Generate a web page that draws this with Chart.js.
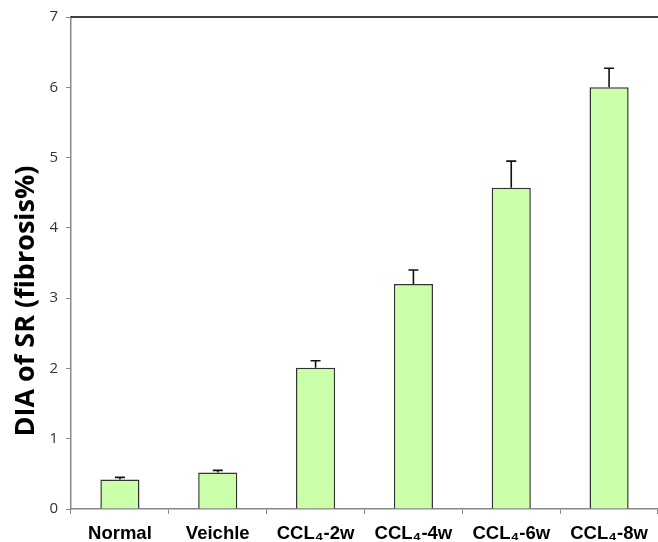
<!DOCTYPE html>
<html>
<head>
<meta charset="utf-8">
<script src="https://cdn.jsdelivr.net/npm/chart.js@4.4.1/dist/chart.umd.min.js"></script>
<style>
  html, body { margin: 0; padding: 0; background: #fff; overflow: hidden; }
  canvas { display: block; }
</style>
</head>
<body>
<canvas id="c" width="658" height="542"></canvas>
<script>
// Groups and measured fibrosis area (mean and mean + SD)
const categories = ['Normal', 'Veichle', 'CCL\u2084-2w', 'CCL\u2084-4w', 'CCL\u2084-6w', 'CCL\u2084-8w'];
const means = [0.42, 0.52, 2.01, 3.20, 4.57, 6.00];
const errorTops = [0.45, 0.55, 2.11, 3.40, 4.95, 6.27];
const yTicks = [0, 1, 2, 3, 4, 5, 6, 7];
const yTitle = 'DIA of SR (fibrosis%)';

// Upper error whiskers with a short cap, the top frame line and the y title
const errorBars = {
  id: 'errorBars',
  afterDatasetsDraw(chart) {
    const { ctx, chartArea, scales } = chart;
    const meta = chart.getDatasetMeta(0);
    ctx.save();
    ctx.strokeStyle = '#111';
    ctx.lineWidth = 1.6;
    meta.data.forEach((bar, i) => {
      const x = bar.x;
      const y0 = scales.y.getPixelForValue(means[i]);
      const y1 = scales.y.getPixelForValue(errorTops[i]);
      ctx.beginPath();
      ctx.moveTo(x, y0);
      ctx.lineTo(x, y1);
      ctx.moveTo(x - 5, y1);
      ctx.lineTo(x + 5, y1);
      ctx.stroke();
    });
    ctx.strokeStyle = '#000';
    ctx.lineWidth = 1.5;
    ctx.beginPath();
    ctx.moveTo(chartArea.left, chartArea.top);
    ctx.lineTo(chartArea.right + 10, chartArea.top);
    ctx.stroke();

    // rotated axis title, sitting a little below the axis midpoint
    ctx.translate(26, 301);
    ctx.rotate(-Math.PI / 2);
    ctx.fillStyle = '#000';
    ctx.font = 'bold 27px "Open Sans", sans-serif';
    ctx.textAlign = 'center';
    ctx.textBaseline = 'middle';
    ctx.fillText(yTitle, 0, 0);
    ctx.restore();
  }
};

new Chart(document.getElementById('c'), {
  type: 'bar',
  data: {
    labels: categories,
    datasets: [{
      data: means,
      backgroundColor: '#ccffaa',
      borderColor: '#333',
      borderWidth: 1.5,
      borderSkipped: 'bottom',
      categoryPercentage: 0.8,
      barPercentage: 0.5
    }]
  },
  options: {
    responsive: false,
    animation: false,
    devicePixelRatio: 1,
    layout: { padding: { top: 16, right: 0, left: 0, bottom: 0 } },
    plugins: {
      legend: { display: false },
      tooltip: { enabled: false }
    },
    scales: {
      x: {
        offset: true,
        grid: { display: true, drawOnChartArea: false, drawTicks: true, tickLength: 5, offset: true, color: '#888' },
        border: { color: '#888', width: 1.5 },
        ticks: {
          color: '#000',
          font: { family: 'Liberation Sans, Arial, sans-serif', size: 18.5, weight: 'bold' },
          padding: 9,
          maxRotation: 0
        },
        afterFit(scale) { scale.height = 33; }
      },
      y: {
        min: 0,
        max: 7,
        afterBuildTicks(scale) { scale.ticks = yTicks.map(v => ({ value: v })); },
        grid: { display: true, drawOnChartArea: false, drawTicks: true, tickLength: 5, color: '#888' },
        border: { color: '#888', width: 1.5 },
        ticks: {
          color: '#333',
          font: { family: 'Open Sans, sans-serif', size: 15 },
          padding: 8
        },
        afterFit(scale) { scale.width = 71; }
      }
    }
  },
  plugins: [errorBars]
});
</script>
</body>
</html>
